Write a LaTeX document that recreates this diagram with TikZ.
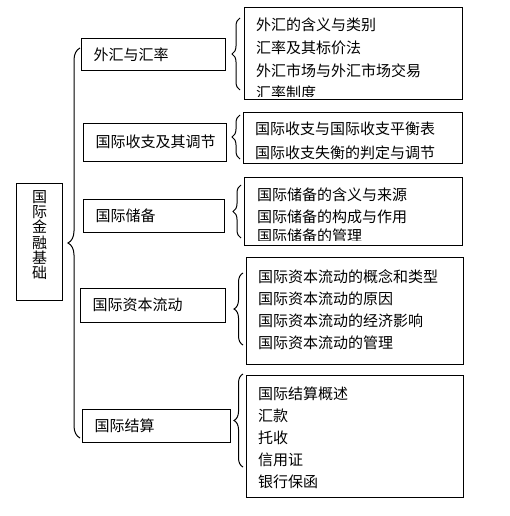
\documentclass[tikz,border=0pt]{standalone}
\usepackage{fontspec}
\newfontfamily\cjk{Noto Sans CJK SC}
\usetikzlibrary{decorations.pathreplacing,calc}
\tikzset{
  box/.style={draw, line width=1pt, inner sep=0pt},
  topic/.style={box, anchor=west, inner xsep=12pt, text width=#1, align=left, font=\cjk\fontsize{15}{18}\selectfont},
  item/.style={anchor=base west, inner sep=0pt, font=\cjk\fontsize{15}{18}\selectfont},
  lbrace/.style={decorate, decoration={brace, amplitude=#1}, line width=1pt},
}
\begin{document}
\begin{tikzpicture}[x=1pt, y=-1pt]
\useasboundingbox (0,0) rectangle (509,516);

% root
\node[box, minimum width=46pt, minimum height=117pt] (root) at (39,241.5) {};
\node[align=center, inner sep=0pt, font=\cjk\fontsize{15}{15.2}\selectfont] (roottxt) at (39.5,235) {国\\际\\金\\融\\基\\础};
\draw[lbrace=12pt] (80,438) -- (80,48);

% topics
\node[topic=120pt, minimum height=32pt] (a1) at (81,55) {外汇与汇率};
\node[topic=119pt, minimum height=38pt] (a2) at (83,142) {国际收支及其调节};
\node[topic=117pt, minimum height=33pt] (a3) at (83,215.5) {国际储备};
\node[topic=121pt, minimum height=34pt] (a4) at (80,305) {国际资本流动};
\node[topic=124pt, minimum height=33pt] (a5) at (82,425.5) {国际结算};

% detail boxes
\node[box, anchor=north west, minimum width=218pt, minimum height=92pt] (d1) at (244,7) {};
\node[box, anchor=north west, minimum width=219pt, minimum height=51pt] (d2) at (243,112) {};
\node[box, anchor=north west, minimum width=218pt, minimum height=68pt] (d3) at (244,177) {};
\node[box, anchor=north west, minimum width=217pt, minimum height=107pt] (d4) at (246,257) {};
\node[box, anchor=north west, minimum width=217pt, minimum height=122pt] (d5) at (246,375) {};

\draw[lbrace=8pt] (240,90) -- (240,18);
\draw[lbrace=8pt] (240,159) -- (240,115);
\draw[lbrace=8pt] (241,238) -- (241,185);
\draw[lbrace=9pt] (243,345) -- (243,273);
\draw[lbrace=9pt] (243,467) -- (243,374);

% detail texts, last lines cut short
\begin{scope}
\clip (d1.north west) rectangle ($(d1.south east)+(0,-3)$);
\foreach \t [count=\i] in {外汇的含义与类别, 汇率及其标价法, 外汇市场与外汇市场交易}
  \node[item] (d1-\i) at (256,{31+22.7*(\i-1)}) {\t};
\node[item] (d1-4) at (256,99) {汇率制度};
\end{scope}
\foreach \t [count=\i] in {国际收支与国际收支平衡表, 国际收支失衡的判定与调节}
  \node[item] (d2-\i) at (255,{135+23*(\i-1)}) {\t};
\begin{scope}
\clip (d3.north west) rectangle ($(d3.south east)+(0,-6)$);
\foreach \t [count=\i] in {国际储备的含义与来源, 国际储备的构成与作用}
  \node[item] (d3-\i) at (257,{200+22.7*(\i-1)}) {\t};
\node[item] (d3-3) at (257,241) {国际储备的管理};
\end{scope}
\foreach \t [count=\i] in {国际资本流动的概念和类型, 国际资本流动的原因, 国际资本流动的经济影响, 国际资本流动的管理}
  \node[item] (d4-\i) at (258,{282+22*(\i-1)}) {\t};
\foreach \t [count=\i] in {国际结算概述, 汇款, 托收, 信用证, 银行保函}
  \node[item] (d5-\i) at (258,{399+22*(\i-1)}) {\t};
\end{tikzpicture}
\end{document}
